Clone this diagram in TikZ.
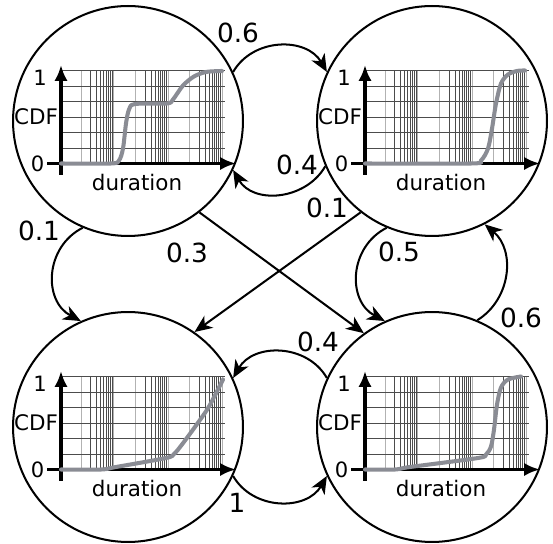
\documentclass[tikz,border=0pt]{standalone}
\usepackage{fontspec}
\setmainfont{DejaVu Sans}
\usetikzlibrary{arrows.meta,calc}

\definecolor{cdfgray}{RGB}{138,140,148}

\tikzset{
  state/.style={draw,circle,line width=1.15pt,minimum size=4.6cm,inner sep=0pt},
  trans/.style={-{Stealth[length=10pt,width=8.5pt,inset=3pt]},line width=1.15pt},
  prob/.style={font=\fontsize{15}{18}\selectfont,inner sep=0pt},
  griddark/.style={black!70,line width=0.55pt},
  gridlight/.style={black!30,line width=0.55pt},
  axis/.style={-{Latex[length=9pt,width=7.5pt]},line width=2.2pt},
  ticklab/.style={font=\fontsize{12}{14}\selectfont,inner sep=0pt},
  axlab/.style={font=\fontsize{12.2}{14}\selectfont,inner sep=0pt},
  cdf/.style={cdfgray,line width=2.3pt,line cap=round,line join=round}
}

% grid, axes and curve inside one state
\newcommand\cdfpanel[2]{%
  \begin{scope}[shift={($(#1)+(-67,-42.5)$)}]
    \foreach \base in {20,74.5,128.5} {
      \draw[gridlight] (\base,0) -- ++(0,93) (\base+32.5,0) -- ++(0,93);
      \foreach \kk in {2,...,9}
        \draw[griddark] ({\base+32.5*log10(\kk)},0) -- ++(0,93);
    }
    \foreach \j in {1,...,6}
      \draw[griddark] (0,\j*15.5) -- ++(163.5,0);
    \draw[axis] (-14,0) -- (175,0);
    \draw[axis] (0,-11.5) -- (0,98.5);
    \draw[cdf] plot[smooth,tension=0.5] coordinates {#2};
    \node[ticklab] (#1one) at (-21,85.5) {1};
    \node[ticklab] (#1zero) at (-23.5,0) {0};
    \node[axlab] (#1cdf) at (-25,46.5) {CDF};
    \node[axlab] (#1dur) at (76,-19.5) {duration};
  \end{scope}}

\begin{document}
\begin{tikzpicture}[x=0.02cm,y=0.02cm]
\useasboundingbox (0,0) rectangle (553,543);

\node[state] (tl) at (128,422) {};
\node[state] (tr) at (432,422) {};
\node[state] (bl) at (128,116) {};
\node[state] (br) at (432,116) {};

\cdfpanel{tl}{(0,0) (50,0) (58,3) (62,15) (65,40) (68,54) (74,59.5) (106,60) (112,64) (122,78) (133,87) (145,91.5) (161,92.5)}
\cdfpanel{tr}{(0,0) (106,0) (116,3) (123,15) (127,35) (131,60) (136,80) (143,89) (152,92.5) (160,93)}
\cdfpanel{bl}{(0,0) (40,0) (55,2.5) (105,11.5) (113,15.5) (121,25) (135,44) (148,63) (162,90)}
\cdfpanel{br}{(0,0) (30,0) (45,2.5) (113,11.5) (121,15) (126,23) (129,40) (132,65) (136,82) (143,90) (156,93)}

% transitions
\draw[trans] (tl.25) to[out=60,in=120,looseness=1.1] (tr.155);
\draw[trans] (tr.203) to[out=-120,in=-60,looseness=1.1] (tl.-25);
\draw[trans] (tl.247) to[out=207,in=152,looseness=1.17] (bl.114);
\draw[trans] (tr.247) to[out=207,in=152,looseness=1.17] (br.114);
\draw[trans] (br.67) to[out=32,in=-40,looseness=1.07] (tr.-63);
\draw[trans] (bl.-25) to[out=-60,in=-120,looseness=1.1] (br.205);
\draw[trans] (br.155) to[out=120,in=60,looseness=1.1] (bl.25);
\draw[trans] (tl.-52) -- (br.126);
\draw[trans] (tr.232) -- (bl.55);

\node[prob] (p1) at (238,510) {0.6};
\node[prob] (p2) at (297,378) {0.4};
\node[prob] (p3) at (327,335) {0.1};
\node[prob] (p4) at (39,312) {0.1};
\node[prob] (p5) at (187,290) {0.3};
\node[prob] (p6) at (399,291) {0.5};
\node[prob] (p7) at (521,225) {0.6};
\node[prob] (p8) at (318,201) {0.4};
\node[prob] (p9) at (237,40) {1};
\end{tikzpicture}
\end{document}
